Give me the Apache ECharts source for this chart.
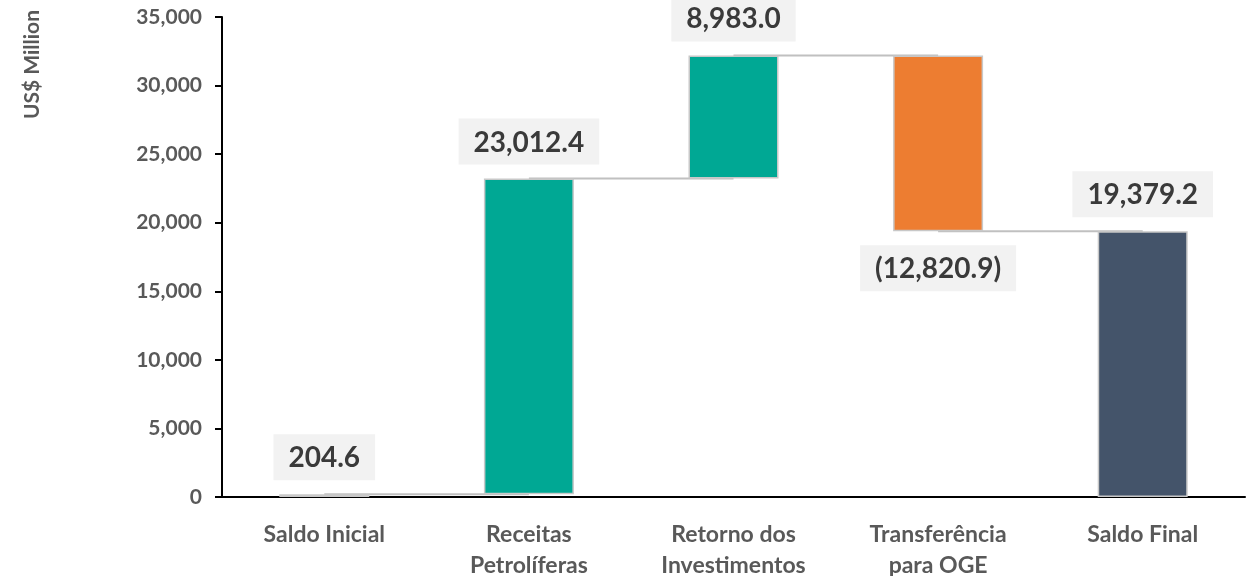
<!DOCTYPE html>
<html>
<head>
<meta charset="utf-8">
<script src="https://cdn.jsdelivr.net/npm/echarts@6/dist/echarts.min.js"></script>
<style>
  html, body { margin: 0; padding: 0; background: #fff; }
  #chart { width: 1256px; height: 576px; }
</style>
</head>
<body>
<div id="chart"></div>
<script>
const categories = ['Saldo Inicial', 'Receitas\nPetrolíferas', 'Retorno dos\nInvestimentos', 'Transferência\npara OGE', 'Saldo Final'];
const deltas = [204.6, 23012.4, 8983.0, -12820.9, 19379.2];
const isTotal = [true, false, false, false, true];
const barColors = ['#44546a', '#00a894', '#00a894', '#ed7d31', '#44546a'];
const yTicks = { min: 0, max: 35000, interval: 5000 };

// waterfall: invisible base + visible piece
let running = 0;
const baseData = [];
const pieceData = [];
const levels = [];
deltas.forEach((d, i) => {
    if (isTotal[i]) {
        baseData.push(0);
        pieceData.push(d);
        running = d;
    } else if (d >= 0) {
        baseData.push(running);
        pieceData.push(d);
        running += d;
    } else {
        running += d;
        baseData.push(running);
        pieceData.push(-d);
    }
    levels.push(running);
});

const fmt = v => {
    const s = Math.abs(v).toLocaleString('en-US', { minimumFractionDigits: 1, maximumFractionDigits: 1 });
    return v < 0 ? '(' + s + ')' : s;
};

const labelStyle = {
    show: true,
    fontFamily: 'Lato',
    fontSize: 28,
    fontWeight: 'bold',
    color: '#3a3a3a',
    backgroundColor: '#f2f2f2',
    padding: [10, 15, 8, 15],
    distance: 14
};

const chart = echarts.init(document.getElementById('chart'));
chart.setOption({
    animation: false,
    grid: { left: 222, right: 11, top: 17, bottom: 79, outerBoundsMode: 'none' },
    graphic: [{
        type: 'text',
        left: 22,
        top: 10,
        rotation: Math.PI / 2,
        style: {
            text: 'US$ Million',
            font: 'bold 21px Lato',
            fill: '#595959'
        }
    }],
    xAxis: {
        type: 'category',
        data: categories,
        axisLine: { lineStyle: { color: '#000', width: 2 } },
        axisTick: { show: false },
        axisLabel: {
            fontFamily: 'Lato',
            fontSize: 23,
            fontWeight: 'bold',
            color: '#595959',
            lineHeight: 31,
            margin: 22
        }
    },
    yAxis: {
        type: 'value',
        min: yTicks.min,
        max: yTicks.max,
        interval: yTicks.interval,
        splitLine: { show: false },
        axisLine: { show: true, lineStyle: { color: '#000', width: 2 } },
        axisTick: { show: true, length: 7, lineStyle: { color: '#000', width: 2 } },
        axisLabel: {
            fontFamily: 'Lato',
            fontSize: 21,
            fontWeight: 'bold',
            color: '#595959',
            margin: 20,
            formatter: v => v.toLocaleString('en-US')
        }
    },
    series: [
        {
            type: 'custom',
            z: 1,
            data: levels.slice(0, -1).map((l, i) => [i, l]),
            renderItem: (params, api) => {
                const i = api.value(0);
                const p1 = api.coord([i, api.value(1)]);
                const p2 = api.coord([i + 1, api.value(1)]);
                return {
                    type: 'line',
                    shape: { x1: p1[0], y1: p1[1], x2: p2[0], y2: p2[1] },
                    style: { stroke: '#c0c0c0', lineWidth: 2 }
                };
            }
        },
        {
            type: 'bar',
            stack: 'w',
            barWidth: 90,
            z: 2,
            itemStyle: { color: 'transparent' },
            data: baseData
        },
        {
            type: 'bar',
            stack: 'w',
            barWidth: 90,
            z: 3,
            data: pieceData.map((v, i) => ({
                value: v,
                itemStyle: { color: barColors[i], borderColor: '#c8c8c8', borderWidth: 1.5 },
                label: Object.assign({}, labelStyle, {
                    position: deltas[i] < 0 ? 'bottom' : 'top',
                    formatter: () => fmt(deltas[i])
                })
            }))
        }
    ]
});
</script>
</body>
</html>
